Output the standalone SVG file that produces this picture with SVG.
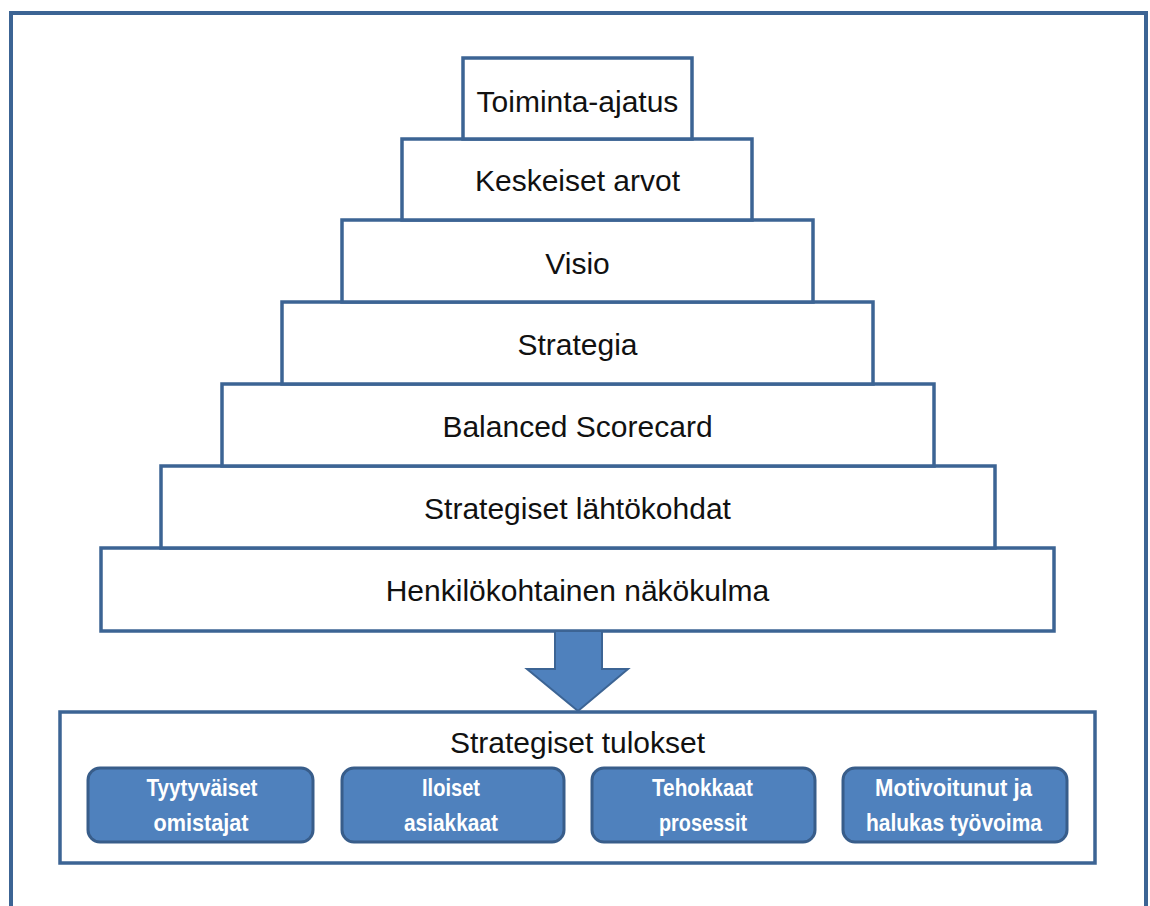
<svg xmlns="http://www.w3.org/2000/svg" width="1150" height="906" viewBox="0 0 1150 906">
  <style>
    .frame { fill: none; stroke: #3c6494; stroke-width: 4; }
    .step { fill: #ffffff; stroke: #3c6494; stroke-width: 3.5; }
    .step-label { font-family: "Liberation Sans", Arial, sans-serif; font-size: 30px; fill: #111111; text-anchor: middle; }
    .result { fill: #4f81bd; stroke: #385d8a; stroke-width: 3; }
    .result-label { font-family: "Liberation Sans", Arial, sans-serif; font-size: 24px; font-weight: bold; fill: #ffffff; text-anchor: middle; }
    .arrow { fill: #4f81bd; stroke: #3c6494; stroke-width: 2; }
  </style>

  <rect width="1150" height="906" fill="#ffffff"/>

  <!-- outer frame (open at the bottom) -->
  <path class="frame" d="M11,906 V13 H1146 V906"/>

  <!-- pyramid, drawn from the widest step upwards so upper edges sit on top -->
  <g id="step-henkilokohtainen">
    <rect class="step" x="101" y="548" width="953" height="83"/>
    <text class="step-label" x="577.5" y="601">Henkilökohtainen näkökulma</text>
  </g>
  <g id="step-lahtokohdat">
    <rect class="step" x="161" y="466" width="834" height="82"/>
    <text class="step-label" x="577.5" y="519">Strategiset lähtökohdat</text>
  </g>
  <g id="step-bsc">
    <rect class="step" x="222" y="384" width="712" height="82"/>
    <text class="step-label" x="577.5" y="437">Balanced Scorecard</text>
  </g>
  <g id="step-strategia">
    <rect class="step" x="282" y="302" width="591" height="82"/>
    <text class="step-label" x="577.5" y="355">Strategia</text>
  </g>
  <g id="step-visio">
    <rect class="step" x="342" y="220" width="471" height="82"/>
    <text class="step-label" x="577.5" y="274">Visio</text>
  </g>
  <g id="step-arvot">
    <rect class="step" x="402" y="139" width="350" height="81"/>
    <text class="step-label" x="577.5" y="191">Keskeiset arvot</text>
  </g>
  <g id="step-toiminta-ajatus">
    <rect class="step" x="463" y="58" width="229" height="81"/>
    <text class="step-label" x="577.5" y="112">Toiminta-ajatus</text>
  </g>

  <!-- block arrow down to the results -->
  <g id="connectors">
    <path class="arrow" d="M555,631 H602 V669 H628 L578,711 L527,669 H555 Z"/>
  </g>

  <!-- results panel -->
  <g id="results">
    <rect class="frame" x="60" y="712" width="1035" height="151" style="stroke-width:3.5"/>
    <text class="step-label" x="577.5" y="753">Strategiset tulokset</text>
  </g>

  <g id="result-omistajat">
    <rect class="result" x="88" y="768" width="225" height="74" rx="12"/>
    <text class="result-label" x="202" y="796" textLength="111" lengthAdjust="spacingAndGlyphs">Tyytyväiset</text>
    <text class="result-label" x="201" y="831" textLength="95" lengthAdjust="spacingAndGlyphs">omistajat</text>
  </g>
  <g id="result-asiakkaat">
    <rect class="result" x="342" y="768" width="222" height="74" rx="12"/>
    <text class="result-label" x="451" y="796" textLength="58" lengthAdjust="spacingAndGlyphs">Iloiset</text>
    <text class="result-label" x="451" y="831" textLength="94" lengthAdjust="spacingAndGlyphs">asiakkaat</text>
  </g>
  <g id="result-prosessit">
    <rect class="result" x="592" y="768" width="223" height="74" rx="12"/>
    <text class="result-label" x="702.5" y="796" textLength="101" lengthAdjust="spacingAndGlyphs">Tehokkaat</text>
    <text class="result-label" x="703" y="831" textLength="88" lengthAdjust="spacingAndGlyphs">prosessit</text>
  </g>
  <g id="result-tyovoima">
    <rect class="result" x="843" y="768" width="224" height="74" rx="12"/>
    <text class="result-label" x="953.5" y="796" textLength="157" lengthAdjust="spacingAndGlyphs">Motivoitunut ja</text>
    <text class="result-label" x="954" y="831" textLength="176" lengthAdjust="spacingAndGlyphs">halukas työvoima</text>
  </g>
</svg>
